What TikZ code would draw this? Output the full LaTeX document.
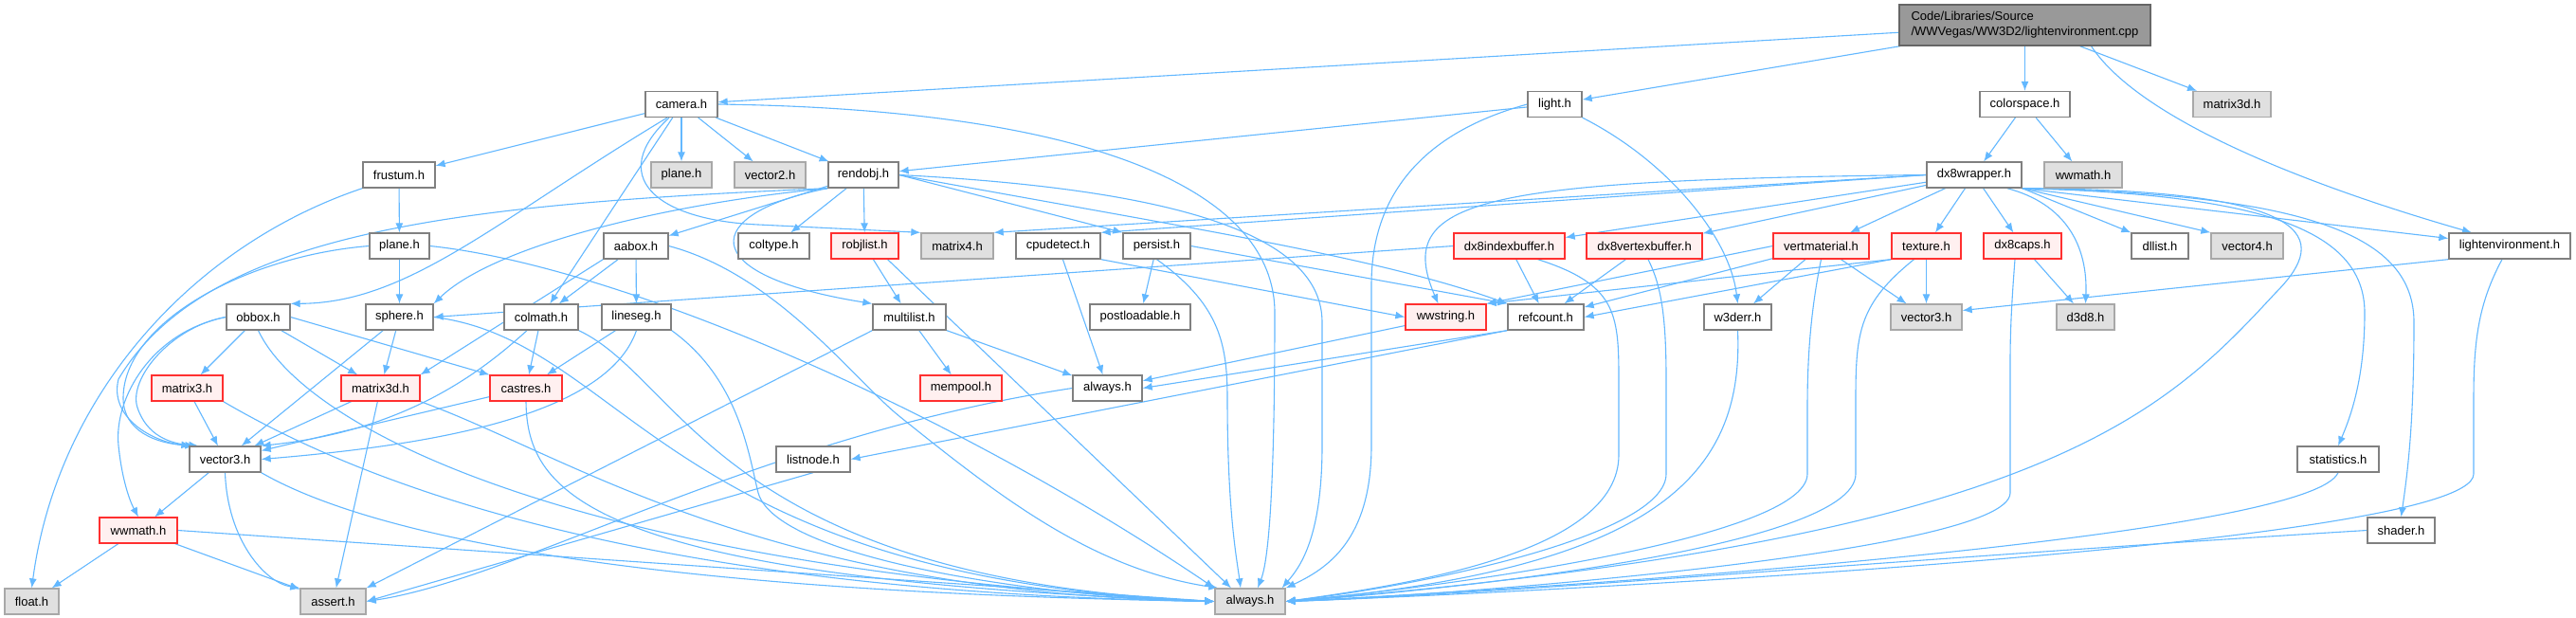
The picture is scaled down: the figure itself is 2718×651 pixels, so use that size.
\documentclass[tikz,border=0pt]{standalone}
\usepackage{fontspec}
\setmainfont{Liberation Sans}
\usetikzlibrary{arrows.meta}
\pgfdeclarelayer{back}
\pgfdeclarelayer{bg}
\pgfsetlayers{back,bg,main}
\definecolor{edgec}{HTML}{63B8FF}
\definecolor{wborder}{HTML}{808080}
\definecolor{gborder}{HTML}{A8A8A8}
\definecolor{gfill}{HTML}{E0E0E0}
\definecolor{rfill}{HTML}{FFF0F0}
\definecolor{rborder}{HTML}{FF3030}
\definecolor{rootfill}{HTML}{999999}
\definecolor{rootborder}{HTML}{666666}
\begin{document}
\begin{tikzpicture}[x=1pt,y=-1pt,
  every node/.style={font=\fontsize{13}{16}\selectfont, inner sep=0pt, minimum height=27pt, line width=1.3pt},
  wn/.style={draw=wborder, fill=white},
  gn/.style={draw=gborder, fill=gfill},
  rn/.style={draw=rborder, fill=rfill},
  lnk/.style={draw=edgec, line width=1.1pt, -{Latex[length=10pt,width=8pt]}},
]
\useasboundingbox (0,0) rectangle (2718,651);
\begin{pgfonlayer}{back}
\fill[white] (0,0) rectangle (2718,651);
\end{pgfonlayer}
% root
\node[draw=rootborder, fill=rootfill, minimum width=265pt, minimum height=43pt, align=left] (root) at (2136.5,26.5) {Code/Libraries/Source\\/WWVegas/WW3D2/lightenvironment.cpp};
% row B
\node[wn, minimum width=76pt] (camera) at (719,110) {camera.h};
\node[wn, minimum width=57pt] (light) at (1640.5,110) {light.h};
\node[wn, minimum width=95pt] (colorspace) at (2136.5,110) {colorspace.h};
\node[gn, minimum width=82pt] (mtdg) at (2355,110) {matrix3d.h};
% row C
\node[wn, minimum width=76pt] (frustum) at (421,184.5) {frustum.h};
\node[gn, minimum width=64pt] (planeg) at (719,184.5) {plane.h};
\node[gn, minimum width=75pt] (vector2) at (812.5,184.5) {vector2.h};
\node[wn, minimum width=74pt] (rendobj) at (911,184.5) {rendobj.h};
\node[wn, minimum width=100pt] (dxwrap) at (2083,184.5) {dx8wrapper.h};
\node[gn, minimum width=82pt] (wwmathg) at (2198,184.5) {wwmath.h};
% row D
\node[wn, minimum width=63pt] (plane) at (421.5,259.5) {plane.h};
\node[wn, minimum width=68pt] (aabox) at (671,259.5) {aabox.h};
\node[wn, minimum width=75pt] (coltype) at (816.5,259.5) {coltype.h};
\node[rn, minimum width=71pt] (robjlist) at (912.5,259.5) {robjlist.h};
\node[gn, minimum width=76pt] (matrixf) at (1010,259.5) {matrix4.h};
\node[wn, minimum width=89pt] (cpudetect) at (1116.5,259.5) {cpudetect.h};
\node[wn, minimum width=71pt] (persist) at (1220.5,259.5) {persist.h};
\node[rn, minimum width=117pt] (dxib) at (1592.5,259.5) {dx8indexbuffer.h};
\node[rn, minimum width=122pt] (dxvb) at (1735,259.5) {dx8vertexbuffer.h};
\node[rn, minimum width=101pt] (vertmat) at (1921.5,259.5) {vertmaterial.h};
\node[rn, minimum width=73pt] (texture) at (2032.5,259.5) {texture.h};
\node[rn, minimum width=82pt] (dxcaps) at (2134,259.5) {dx8caps.h};
\node[wn, minimum width=60pt] (dllist) at (2279,259.5) {dllist.h};
\node[gn, minimum width=76pt] (vectorf) at (2371,259.5) {vector4.h};
\node[wn, minimum width=128pt] (lightenv) at (2648,259.5) {lightenvironment.h};
% row E
\node[wn, minimum width=67pt] (obbox) at (272.5,334.5) {obbox.h};
\node[wn, minimum width=71pt] (sphere) at (421.5,334.5) {sphere.h};
\node[wn, minimum width=78pt] (colmath) at (571,334.5) {colmath.h};
\node[wn, minimum width=73pt] (lineseg) at (671.5,334.5) {lineseg.h};
\node[wn, minimum width=77pt] (multilist) at (959.5,334.5) {multilist.h};
\node[wn, minimum width=106pt] (postload) at (1203,334.5) {postloadable.h};
\node[rn, minimum width=85pt] (wwstring) at (1525.5,334.5) {wwstring.h};
\node[wn, minimum width=80pt] (refcount) at (1631,334.5) {refcount.h};
\node[wn, minimum width=71pt] (wtderr) at (1833.5,334.5) {w3derr.h};
\node[gn, minimum width=75pt] (vectorg) at (2032.5,334.5) {vector3.h};
\node[gn, minimum width=61pt] (dtd) at (2200.5,334.5) {d3d8.h};
% row F
\node[rn, minimum width=75pt] (matrixt) at (197.5,409.5) {matrix3.h};
\node[rn, minimum width=83pt] (matrixtd) at (401.5,409.5) {matrix3d.h};
\node[rn, minimum width=76pt] (castres) at (555,409.5) {castres.h};
\node[rn, minimum width=86pt] (mempool) at (1014,409.5) {mempool.h};
\node[wn, minimum width=73pt] (alwaysw) at (1168.5,409.5) {always.h};
% row G
\node[wn, minimum width=75pt] (vector) at (237.5,484.5) {vector3.h};
\node[wn, minimum width=78pt] (listnode) at (858,484.5) {listnode.h};
\node[wn, minimum width=86pt] (statistics) at (2467,484.5) {statistics.h};
% row H
\node[rn, minimum width=82pt] (wwmath) at (146,559.5) {wwmath.h};
\node[wn, minimum width=71pt] (shader) at (2533.5,559.5) {shader.h};
% row I
\node[gn, minimum width=57pt] (float) at (33.5,634.5) {float.h};
\node[gn, minimum width=69pt] (assert) at (351.5,634.5) {assert.h};
\node[gn, minimum width=74pt] (alwaysg) at (1319,634.5) {always.h};

\begin{pgfonlayer}{bg}
% root
\draw[lnk] (root) -- (camera);
\draw[lnk] (root) -- (light);
\draw[lnk] (root) -- (colorspace);
\draw[lnk] (root) -- (mtdg);
\draw[lnk] ([xshift=70pt]root.south) .. controls (2260,130) and (2450,200) .. ([xshift=-40pt]lightenv.north);
% camera
\draw[lnk] (camera) -- (frustum);
\draw[lnk] (camera) -- (planeg);
\draw[lnk] (camera) -- (vector2);
\draw[lnk] (camera) -- (rendobj);
\draw[lnk] ([xshift=-15pt]camera.south) .. controls (520,235) and (430,320) .. (obbox.north east);
\draw[lnk] (camera) -- (colmath);
\draw[lnk] ([xshift=-13pt]camera.south) .. controls (640,185) and (690,232) .. (800,237) -- (matrixf.north west);
\draw[lnk] (camera.east) .. controls (1150,115) and (1345,200) .. (1345,330) .. controls (1345,560) and (1335,600) .. ([xshift=8pt]alwaysg.north);
% light
\draw[lnk] (light) -- (rendobj);
\draw[lnk] (light.west) .. controls (1520,135) and (1447,190) .. (1447,300) -- (1447,470) .. controls (1447,570) and (1400,600) .. (alwaysg.north east);
\draw[lnk] (light.south east) .. controls (1760,170) and (1825,250) .. (wtderr.north);
% colorspace
\draw[lnk] (colorspace) -- (dxwrap);
\draw[lnk] (colorspace) -- (wwmathg);
% frustum
\draw[lnk] (frustum) -- (plane);
\draw[lnk] (frustum.south west) .. controls (200,260) and (60,420) .. (float.north);
% plane
\draw[lnk] (plane) -- (sphere);
\draw[lnk] (plane.west) .. controls (260,270) and (130,340) .. (130,420) .. controls (130,455) and (165,468) .. ([xshift=6pt]vector.north west);
\draw[lnk] (plane.east) .. controls (650,280) and (1000,430) .. (alwaysg.north west);
% rendobj
\draw[lnk] (rendobj) -- (robjlist);
\draw[lnk] (rendobj) -- (coltype);
\draw[lnk] (rendobj) -- (aabox);
\draw[lnk] (rendobj.south west) .. controls (700,215) and (520,260) .. (sphere.north east);
\draw[lnk] (rendobj.south west) .. controls (740,225) and (730,290) .. (multilist.north west);
\draw[lnk] (rendobj.south west) .. controls (500,215) and (220,240) .. (125,400) .. controls (115,440) and (160,466) .. ([xshift=2pt]vector.north west);
\draw[lnk] (rendobj.east) -- (persist.north west);
\draw[lnk] (rendobj.east) .. controls (1250,240) and (1450,270) .. (refcount.north west);
\draw[lnk] (rendobj.east) .. controls (1250,200) and (1395,250) .. (1395,340) -- (1395,470) .. controls (1395,570) and (1370,600) .. ([xshift=-4pt]alwaysg.north east);
% aabox
\draw[lnk] (aabox) -- (colmath);
\draw[lnk] (aabox) -- (lineseg);
\draw[lnk] (aabox.south west) -- (matrixtd.north east);
\draw[lnk] (aabox.east) .. controls (820,290) and (900,400) .. (950,440) .. controls (1050,520) and (1150,600) .. ([xshift=4pt]alwaysg.north west);
% robjlist
\draw[lnk] (robjlist) -- (multilist);
\draw[lnk] ([xshift=24pt]robjlist.south) -- ([xshift=-20pt]alwaysg.north);
% multilist
\draw[lnk] (multilist) -- (mempool);
\draw[lnk] (multilist) -- (alwaysw);
\draw[lnk] (multilist.south west) -- (assert.north east);
% cpudetect
\draw[lnk] (cpudetect) -- (alwaysw);
\draw[lnk] (cpudetect.south east) -- (wwstring.west);
% persist
\draw[lnk] (persist) -- (postload);
\draw[lnk] (persist.east) -- (refcount.north west);
\draw[lnk] (persist.south) .. controls (1285,320) and (1295,360) .. (1295,420) .. controls (1295,540) and (1305,590) .. ([xshift=-10pt]alwaysg.north);
% dx8indexbuffer
\draw[lnk] (dxib) -- (refcount);
\draw[lnk] (dxib.west) -- (sphere.east);
\draw[lnk] ([xshift=30pt]dxib.south) .. controls (1705,300) and (1708,330) .. (1708,400) -- (1708,480) .. controls (1708,580) and (1500,615) .. (alwaysg.east);
% dx8vertexbuffer
\draw[lnk] (dxvb) -- (refcount);
\draw[lnk] ([xshift=4pt]dxvb.south) .. controls (1752,300) and (1758,330) .. (1758,400) -- (1758,500) .. controls (1758,565) and (1500,618) .. (alwaysg.east);
% vertmaterial
\draw[lnk] (vertmat) -- (refcount);
\draw[lnk] (vertmat.west) -- (wwstring.north east);
\draw[lnk] (vertmat) -- (wtderr);
\draw[lnk] (vertmat) -- (vectorg);
\draw[lnk] (vertmat.south) .. controls (1910,330) and (1907,380) .. (1907,430) -- (1907,500) .. controls (1907,570) and (1500,622) .. (alwaysg.east);
% texture
\draw[lnk] (texture) -- (vectorg);
\draw[lnk] (texture.south west) -- (wwstring.north east);
\draw[lnk] (texture.south west) -- (refcount.east);
\draw[lnk] ([xshift=-13pt]texture.south) .. controls (1962,320) and (1958,350) .. (1958,420) -- (1958,500) .. controls (1958,580) and (1500,625) .. (alwaysg.east);
% dx8caps
\draw[lnk] (dxcaps) -- (dtd);
\draw[lnk] ([xshift=-8pt]dxcaps.south) .. controls (2124,300) and (2121,340) .. (2121,380) -- (2121,520) .. controls (2121,585) and (1500,630) .. (alwaysg.east);
% dx8wrapper
\draw[lnk] (dxwrap) -- (vertmat);
\draw[lnk] (dxwrap) -- (texture);
\draw[lnk] (dxwrap) -- (dxcaps);
\draw[lnk] ([xshift=-16pt]dxwrap.south east) .. controls (2180,215) and (2203,260) .. (dtd.north);
\draw[lnk] (dxwrap.south east) -- (dllist.north west);
\draw[lnk] (dxwrap.south east) -- (vectorf.north west);
\draw[lnk] (dxwrap.south east) -- ([yshift=8pt]lightenv.west);
\draw[lnk] (dxwrap.south east) .. controls (2380,205) and (2495,240) .. (2495,330) .. controls (2495,400) and (2480,440) .. (statistics.north);
\draw[lnk] (dxwrap.south east) .. controls (2440,205) and (2547,250) .. (2547,340) .. controls (2547,450) and (2540,500) .. (shader.north);
\draw[lnk] (dxwrap.south east) .. controls (2470,200) and (2450,260) .. (2400,310) .. controls (2280,440) and (2150,570) .. (alwaysg.east);
\draw[lnk] (dxwrap) -- (dxib);
\draw[lnk] (dxwrap) -- (dxvb);
\draw[lnk] (dxwrap.west) .. controls (1560,190) and (1470,210) .. ([xshift=-8pt]wwstring.north);
\draw[lnk] (dxwrap.west) -- (matrixf.north east);
\draw[lnk] (dxwrap.west) -- (cpudetect.north east);
% lightenvironment
\draw[lnk] (lightenv.south west) -- ([yshift=7pt]vectorg.east);
\draw[lnk] ([xshift=-8pt]lightenv.south) .. controls (2615,320) and (2610,360) .. (2610,420) -- (2610,500) .. controls (2610,580) and (1500,630) .. (alwaysg.east);
% statistics, shader, w3derr
\draw[lnk] (statistics.south) .. controls (2440,560) and (1800,612) .. (alwaysg.east);
\draw[lnk] (shader.west) .. controls (2000,590) and (1600,626) .. (alwaysg.east);
\draw[lnk] (wtderr.south) .. controls (1840,500) and (1750,600) .. (alwaysg.east);
% wwstring, refcount
\draw[lnk] (wwstring) -- (alwaysw);
\draw[lnk] (refcount.south west) -- (alwaysw.east);
\draw[lnk] (refcount.south west) -- (listnode.east);
% obbox
\draw[lnk] (obbox) -- (matrixt);
\draw[lnk] (obbox) -- (matrixtd);
\draw[lnk] (obbox.east) -- (castres.north west);
\draw[lnk] (obbox.west) .. controls (180,345) and (135,400) .. (145,430) .. controls (155,460) and (180,468) .. ([xshift=10pt]vector.north west);
\draw[lnk] (obbox.west) .. controls (160,350) and (120,420) .. (125,470) .. controls (128,500) and (135,525) .. (wwmath.north);
\draw[lnk] (obbox.south) .. controls (320,450) and (600,600) .. (alwaysg.west);
% sphere
\draw[lnk] (sphere) -- (vector);
\draw[lnk] (sphere) -- (matrixtd);
\draw[lnk] (sphere.east) .. controls (660,360) and (700,610) .. (alwaysg.west);
% matrix3
\draw[lnk] (matrixt) -- (vector);
\draw[lnk] (matrixt.south east) .. controls (400,520) and (700,625) .. (alwaysg.west);
% matrix3d
\draw[lnk] (matrixtd) -- (vector);
\draw[lnk] (matrixtd) -- (assert);
\draw[lnk] (matrixtd.south east) .. controls (600,480) and (800,625) .. (alwaysg.west);
% castres
\draw[lnk] (castres) -- (vector);
\draw[lnk] (castres.south) .. controls (556,520) and (620,610) .. (alwaysg.west);
% colmath
\draw[lnk] (colmath) -- (castres);
\draw[lnk] ([xshift=-15pt]colmath.south) .. controls (500,400) and (420,455) .. (vector.north east);
\draw[lnk] (colmath.south east) .. controls (720,400) and (760,610) .. (alwaysg.west);
% lineseg
\draw[lnk] (lineseg) -- (castres);
\draw[lnk] (lineseg.south) .. controls (640,440) and (450,470) .. (vector.east);
\draw[lnk] (lineseg.south east) .. controls (780,400) and (790,480) .. (800,520) .. controls (820,590) and (1100,630) .. (alwaysg.west);
% vector3
\draw[lnk] (vector) -- (wwmath);
\draw[lnk] (vector.south) .. controls (240,570) and (280,615) .. (assert.north west);
\draw[lnk] (vector.south east) .. controls (400,570) and (700,625) .. (alwaysg.west);
% wwmath
\draw[lnk] (wwmath) -- (float);
\draw[lnk] (wwmath) -- (assert);
\draw[lnk] (wwmath.east) -- (alwaysg.west);
% listnode, always (white)
\draw[lnk] (listnode.south) -- (assert.east);
\draw[lnk] (alwaysw.west) .. controls (800,460) and (550,610) .. (assert.east);
\end{pgfonlayer}
\end{tikzpicture}
\end{document}
